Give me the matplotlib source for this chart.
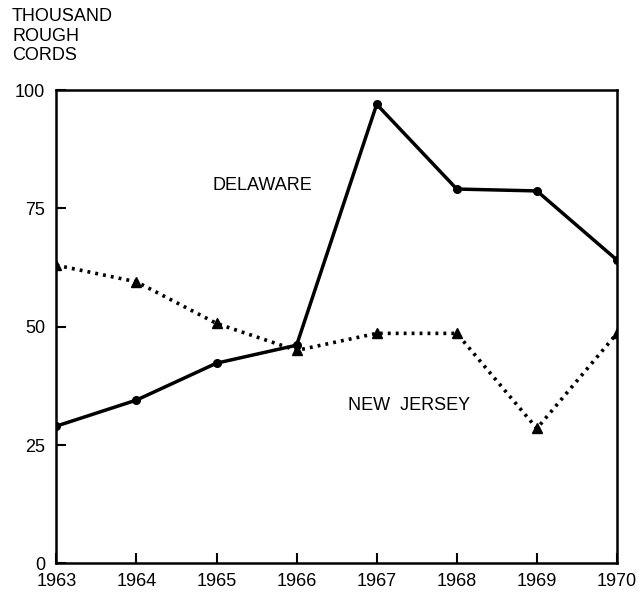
import matplotlib.pyplot as plt

years = [1963, 1964, 1965, 1966, 1967, 1968, 1969, 1970]
delaware = [29.0, 34.5, 42.3, 46.1, 97.0, 79.1, 78.7, 64.1]
new_jersey = [63.0, 59.5, 50.7, 45.0, 48.6, 48.6, 28.5, 48.6]
y_ticks = [0, 25, 50, 75, 100]

plt.rcParams['font.family'] = ['Liberation Sans', 'DejaVu Sans']

fig = plt.figure(figsize=(6.4, 5.93), dpi=100)
ax = fig.add_axes([0.088, 0.05, 0.876, 0.798])

ax.plot(years, delaware, color='black', linewidth=2.5, marker='o', markersize=5.5)
ax.plot(years, new_jersey, color='black', linewidth=2.6, linestyle=(0, (0.8, 1.4)),
        marker='^', markersize=7)

ax.set_xlim(1963, 1970)
ax.set_ylim(0, 100)
ax.set_xticks(years)
ax.set_yticks(y_ticks)
ax.tick_params(direction='in', length=7, width=1.5, labelsize=13, colors='black')
ax.tick_params(axis='x', pad=7)
ax.tick_params(axis='y', pad=8)
for spine in ax.spines.values():
    spine.set_linewidth(1.8)

fig.text(213 / 640, 1 - 185 / 593, 'DELAWARE', fontsize=13, va='center')
fig.text(348 / 640, 1 - 405 / 593, 'NEW  JERSEY', fontsize=13, va='center')
fig.text(12 / 640, 1 - 8 / 593, 'THOUSAND\nROUGH\nCORDS', fontsize=13, va='top',
         linespacing=1.2)

plt.savefig('out.png', dpi=100)
